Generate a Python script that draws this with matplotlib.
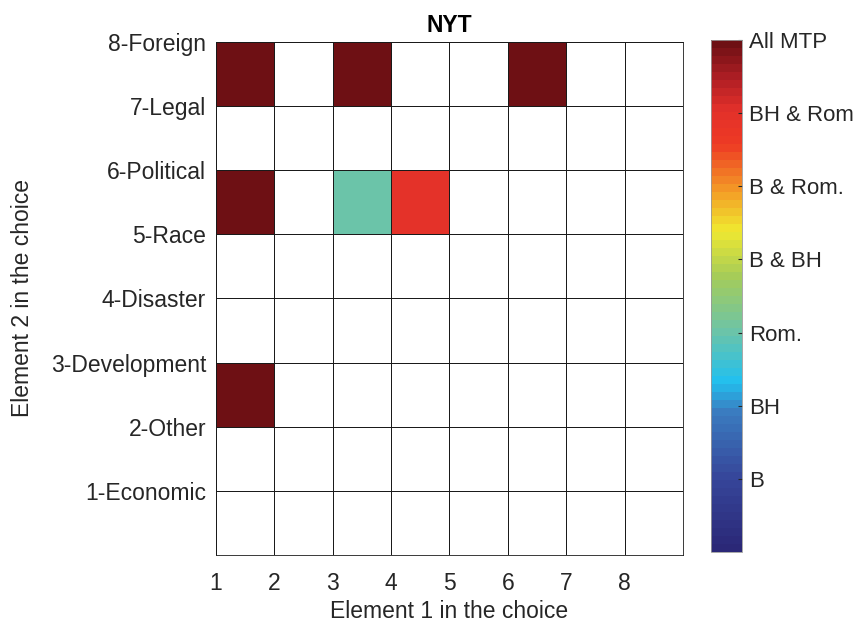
import numpy as np
import matplotlib
matplotlib.use('Agg')
import matplotlib.pyplot as plt
from matplotlib.colors import LinearSegmentedColormap

# filled cells: (element 1, element 2 row) and the level they take
elem1 = [1, 3, 6, 1, 3, 4, 1]
elem2 = [7, 7, 7, 5, 5, 5, 2]
level = [7, 7, 7, 7, 3, 6, 7]

x_ticks = [1, 2, 3, 4, 5, 6, 7, 8]
y_labels = ['1-Economic', '2-Other', '3-Development', '4-Disaster',
            '5-Race', '6-Political', '7-Legal', '8-Foreign']
cbar_labels = ['B', 'BH', 'Rom.', 'B & BH', 'B & Rom.', 'BH & Rom', 'All MTP']

plt.rcParams['font.family'] = ['Liberation Sans', 'DejaVu Sans']
fs = 16.5

stops = [(0.0, '#2b2877'), (0.14, '#36469a'), (0.27, '#3a7cc0'),
         (0.33, '#22c0ef'), (0.43, '#6cc4a8'), (0.54, '#a6cc58'),
         (0.63, '#f0e830'), (0.71, '#f39a26'), (0.80, '#ee3a24'),
         (0.87, '#e2302a'), (0.93, '#b01e24'), (1.0, '#6e1014')]
cmap = LinearSegmentedColormap.from_list('mtp', stops, N=64)

grid = np.full((8, 8), np.nan)
for c, r, v in zip(elem1, elem2, level):
    grid[r, c - 1] = v

fig = plt.figure(figsize=(8.56, 6.24), dpi=100)
ax = fig.add_axes([0.2523, 0.1106, 0.5456, 0.8221])
xe = np.arange(1, 10)
ye = np.arange(0, 9)
mesh = ax.pcolormesh(xe, ye, np.ma.masked_invalid(grid), cmap=cmap,
                     vmin=0, vmax=7, edgecolors='#1a1a1a', linewidth=0.6)

ax.set_xlim(1, 9)
ax.set_ylim(0, 8)
ax.set_xticks(x_ticks)
ax.set_yticks(range(1, 9))
ax.set_yticklabels(y_labels)
ax.tick_params(length=0, labelsize=fs, colors='#262626')
ax.tick_params(axis='x', pad=12)
ax.tick_params(axis='y', pad=7)
ax.grid(True, color='#1a1a1a', linewidth=0.6)
ax.set_axisbelow(False)
for s in ax.spines.values():
    s.set_color('#1a1a1a')
    s.set_linewidth(0.6)

ax.set_xlabel('Element 1 in the choice', fontsize=fs, color='#262626', labelpad=4)
ax.set_ylabel('Element 2 in the choice', fontsize=fs, color='#262626', labelpad=12)
ax.set_title('NYT', fontsize=fs, fontweight='bold', pad=7)

cax = fig.add_axes([0.8306, 0.1154, 0.0362, 0.8205])
cb = fig.colorbar(mesh, cax=cax, ticks=range(1, 8))
cb.ax.set_yticklabels(cbar_labels)
cb.ax.tick_params(labelsize=16, length=3, width=0.8, direction='in',
                  pad=5, colors='#262626')
cb.outline.set_linewidth(0.6)
cb.outline.set_edgecolor('#999999')

fig.savefig('out.png', dpi=100)
